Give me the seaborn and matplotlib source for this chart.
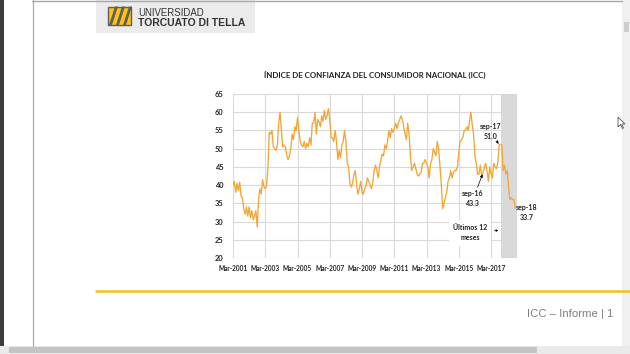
import matplotlib
matplotlib.use("Agg")
import matplotlib.pyplot as plt
from matplotlib.patches import Rectangle, Polygon
import numpy as np
import pandas as pd
import seaborn as sns


# ICC nacional, mensual, mar-2001 a sep-2018
ICC = [
    # 2001 (mar-dic)
    40, 41, 38, 40.5, 38.5, 40.8, 37, 36.5, 33.5, 32,
    # 2002
    34, 31.5, 34, 31, 33, 30.5, 31.5, 33, 28.5, 36, 39, 37.5,
    # 2003
    41.5, 39.5, 39, 40, 45, 54.5, 54, 55, 50.5, 50, 49.5, 51,
    # 2004
    57, 60, 55, 50.5, 51, 50.5, 48, 47, 48, 50, 54, 52.5,
    # 2005
    56, 55, 58.5, 55, 52, 51, 50.5, 52, 50, 51.5, 50.5, 53,
    # 2006
    51, 57, 57, 60, 54, 58, 57.5, 56, 59, 57.5, 60.5, 58,
    # 2007
    59, 61, 58, 53, 53, 52, 55, 52, 47, 49.5, 47.5, 51,
    # 2008
    52, 55, 52, 46, 45, 40.5, 39.5, 40.5, 43, 44, 40, 37.5,
    # 2009
    39, 41, 38, 37.5, 39, 40, 42, 41, 40, 39, 40.5, 44,
    # 2010
    45.5, 44, 42, 45, 47, 48.5, 48, 51, 50, 52, 55, 53,
    # 2011
    55.5, 54.5, 55.5, 57, 55.5, 57, 58, 59, 58, 56, 54, 52.5,
    # 2012
    57, 54, 48, 44, 45, 46, 44.5, 43, 42.5, 43, 43.5, 46,
    # 2013
    46, 47, 46, 45, 42, 46, 47, 50, 49, 48, 52, 50,
    # 2014
    45, 40, 33.5, 35, 36.5, 38, 41, 42, 44, 42, 43.5, 44,
    # 2015
    44, 45, 49, 52, 52.5, 53, 55, 55, 56, 55, 57.5, 60,
    # 2016
    56.5, 54, 48, 46, 43, 43, 45.5, 42.5, 43.3, 45, 46, 44,
    # 2017
    41, 45, 43, 42, 46, 45, 44.5, 46, 51.0, 51.2, 51, 44,
    # 2018 (ene-sep)
    45.5, 43, 44, 40, 36, 36.5, 36, 36, 33.7,
]

X_LABELS = ["Mar-2001", "Mar-2003", "Mar-2005", "Mar-2007", "Mar-2009",
            "Mar-2011", "Mar-2013", "Mar-2015", "Mar-2017"]
Y_TICKS = [20, 25, 30, 35, 40, 45, 50, 55, 60, 65]

TITLE = "ÍNDICE DE CONFIANZA DEL CONSUMIDOR NACIONAL (ICC)"
LINE_COLOUR = "#F2A636"
GRID_COLOUR = "#D9D9D9"

df = pd.DataFrame({
    "fecha": pd.date_range("2001-03-01", periods=len(ICC), freq="MS"),
    "icc": ICC,
})
df["pos"] = np.arange(len(df))

sns.set_style("white")
plt.rcParams["font.family"] = ["Lato", "DejaVu Sans"]

W, H = 630, 354
fig = plt.figure(figsize=(W / 100, H / 100), dpi=100)

# --- page / window frame, drawn in pixel coordinates ---
bg = fig.add_axes([0, 0, 1, 1])
bg.set_xlim(0, W)
bg.set_ylim(H, 0)
bg.axis("off")

bg.add_patch(Rectangle((0, 0), 4, H, color="#3D3D3D", lw=0))
bg.plot([32.5, 32.5], [0, 346], color="#A8A8A8", lw=0.9)
bg.plot([32, 622], [0.6, 0.6], color="#A8A8A8", lw=1.0)

# logo
bg.add_patch(Rectangle((96, 0), 159, 33, color="#EBEBEB", lw=0))
bg.add_patch(Rectangle((108, 6.5), 23, 18.5, facecolor="#FFC20E",
                       edgecolor="#5E5F61", lw=1.0))
for x0 in (108, 115, 122):
    bg.add_patch(Polygon([(x0 + 1, 25), (x0 + 4, 25), (x0 + 10, 6.5), (x0 + 7, 6.5)],
                         closed=True, color="#5E5F61", lw=0))
bg.text(138, 13, "UNIVERSIDAD", fontsize=6.9, color="#333333",
        family="Liberation Sans", va="center", ha="left")
bg.text(138, 22.5, "TORCUATO DI TELLA", fontsize=7.5, color="#333333",
        family="Liberation Sans", weight="bold", va="center", ha="left")

# footer
bg.plot([95, 630], [291, 291], color="#F2C414", lw=1.8, solid_capstyle="butt")
bg.text(613, 314, "ICC – Informe | 1", fontsize=8.2, color="#7F7F7F",
        family="Liberation Sans", ha="right", va="center")

# scrollbars
bg.add_patch(Rectangle((622, 0), 8, 346, color="#F0F0F0", lw=0))
bg.add_patch(Rectangle((623.5, 22), 5, 10, color="#CDCDCD", lw=0))
bg.add_patch(Rectangle((0, 346), W, 8, color="#EAEAEA", lw=0))
bg.add_patch(Rectangle((9, 347), 528, 6, color="#C4C4C4", lw=0))

# mouse pointer
bg.add_patch(Polygon([(618, 117), (618, 127), (620.5, 124.5), (622.5, 128.5),
                      (623.5, 128), (621.8, 124), (625, 124)],
                     closed=True, facecolor="white", edgecolor="#555555", lw=0.6))

# --- chart ---
ax = fig.add_axes([233 / W, 1 - 258 / H, 284 / W, 164 / H])
ax.axvspan(199.5, 211.3, color="#D9D9D9", lw=0, zorder=0)
sns.lineplot(data=df, x="pos", y="icc", ax=ax, color=LINE_COLOUR,
             linewidth=0.95, zorder=3)

ax.set_xlim(0, 211.3)
ax.set_ylim(20, 65)
ax.set_xticks(np.arange(0, 193, 24))
ax.set_xticklabels(X_LABELS)
ax.set_yticks(Y_TICKS)
ax.tick_params(axis="x", length=0, labelsize=4.7, colors="#222222", pad=5)
ax.tick_params(axis="y", length=0, labelsize=5.4, colors="#222222", pad=7)
for lab in ax.get_xticklabels() + ax.get_yticklabels():
    lab.set_fontweight("bold")
ax.grid(True, color=GRID_COLOUR, lw=0.8, zorder=1)
ax.set_axisbelow(True)
for s in ax.spines.values():
    s.set_visible(False)
ax.set_xlabel("")
ax.set_ylabel("")
ax.set_title(TITLE, fontsize=5.7, weight="bold", pad=12, color="#222222")

arrow = dict(arrowstyle="-|>", color="black", lw=0.5, mutation_scale=4,
             shrinkA=0, shrinkB=1)
ann = dict(fontsize=5, weight="bold", ha="center", va="center", color="#222222",
           linespacing=1.5)

ax.annotate("sep-17\n51.0", xy=(198, 51.0), xytext=(192, 54.8),
            arrowprops=arrow, **ann)
ax.annotate("sep-16\n43.3", xy=(186, 43.3), xytext=(178.6, 36.2),
            arrowprops=arrow, **ann)
ax.text(218.5, 32.6, "sep-18\n33.7", clip_on=False, **ann)
ax.text(176.4, 26.9, "Últimos 12\nmeses", zorder=4,
        bbox=dict(facecolor="white", edgecolor="none", pad=3), **ann)
ax.annotate("", xy=(199.6, 27.5), xytext=(192.5, 27.5),
            arrowprops=dict(arrowstyle="-|>", color="black", lw=0.5,
                            mutation_scale=3, linestyle=(0, (3, 2))))

fig.savefig("out.png", dpi=100)
